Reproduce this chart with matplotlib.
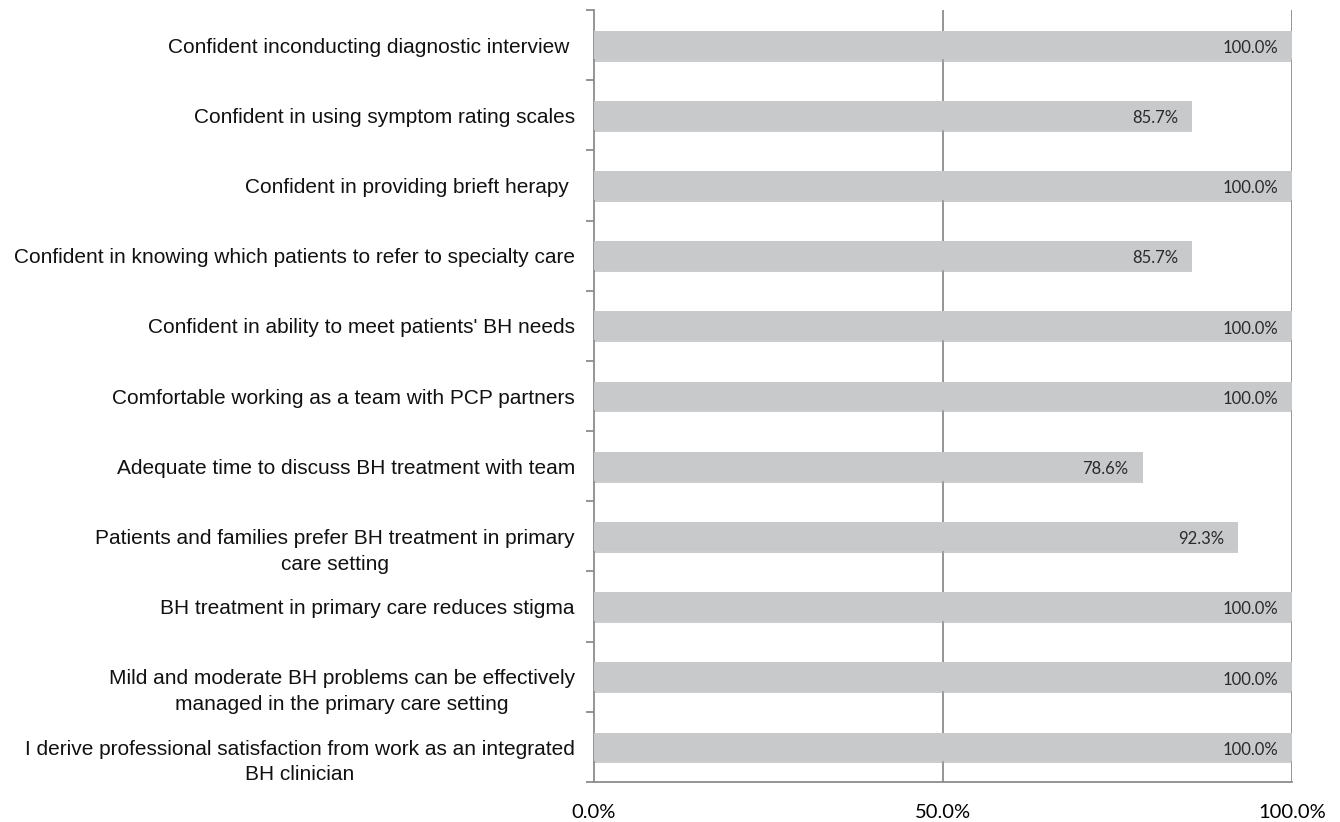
import matplotlib.pyplot as plt
import matplotlib.transforms as mtransforms
import numpy as np

items = [
    "Confident inconducting diagnostic interview ",
    "Confident in using symptom rating scales",
    "Confident in providing brieft herapy ",
    "Confident in knowing which patients to refer to specialty care",
    "Confident in ability to meet patients' BH needs",
    "Comfortable working as a team with PCP partners",
    "Adequate time to discuss BH treatment with team",
    "Patients and families prefer BH treatment in primary\ncare setting",
    "BH treatment in primary care reduces stigma",
    "Mild and moderate BH problems can be effectively\nmanaged in the primary care setting",
    "I derive professional satisfaction from work as an integrated\nBH clinician",
]
pct = [100.0, 85.7, 100.0, 85.7, 100.0, 100.0, 78.6, 92.3, 100.0, 100.0, 100.0]
xticks = [0, 50, 100]
xticklabels = ["0.0%", "50.0%", "100.0%"]

fig = plt.figure(figsize=(13.4, 8.22), dpi=100)
ax = fig.add_axes([594 / 1340, 1 - 782 / 822, 698 / 1340, 772 / 822])

y = np.arange(len(items))
# soft shadow under each bar, then the bar itself
ax.barh(y + 0.03, pct, height=0.41, color="#a9aaac", alpha=0.6, zorder=2)
ax.barh(y, pct, height=0.41, color="#c8c9cb", zorder=3)

for yi, v in zip(y, pct):
    ax.text(v - 2.0, yi + 0.04, f"{v:.1f}%", ha="right", va="center",
            fontsize=12, family="Lato", color="#2a2a2a", zorder=4)

ax.set_xlim(0, 100)
ax.set_ylim(len(items) - 0.5, -0.5)

ax.set_xticks(xticks)
ax.set_xticklabels(xticklabels, family="Lato", fontsize=14.5)
ax.tick_params(axis="x", length=0, pad=16)
for x in xticks[1:]:
    ax.axvline(x, color="#8c8c8c", lw=1.3, zorder=1)

# category labels: first line level with the bar, extra lines below it
ax.set_yticks(y)
ax.set_yticklabels([])
ax.tick_params(axis="y", which="major", length=0)
lab_tr = ax.get_yaxis_transform() + mtransforms.ScaledTranslation(
    -0.19, 0, fig.dpi_scale_trans)
for yi, name in zip(y, items):
    yy = yi + 0.03 + 0.185 * name.count("\n")
    ax.text(0, yy, name, transform=lab_tr, ha="right", va="center",
            multialignment="center", linespacing=1.45,
            family="Liberation Sans", fontsize=15, color="#111111")

ax.set_yticks(np.arange(-0.5, len(items)), minor=True)
ax.tick_params(axis="y", which="minor", length=6, width=1.3, color="#8c8c8c")

for s in ["top", "right"]:
    ax.spines[s].set_visible(False)
for s in ["left", "bottom"]:
    ax.spines[s].set_color("#8c8c8c")
    ax.spines[s].set_linewidth(1.3)

fig.savefig("out.png", dpi=100)
